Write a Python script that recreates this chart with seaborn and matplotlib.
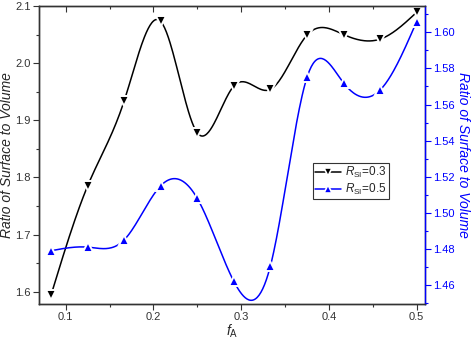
import matplotlib
matplotlib.use("Agg")
import matplotlib.pyplot as plt
import numpy as np
import seaborn as sns
from matplotlib.lines import Line2D
from matplotlib.ticker import MultipleLocator, FormatStrFormatter

sns.set_style("ticks")
plt.rcParams['font.family'] = ['Liberation Sans', 'DejaVu Sans']
plt.rcParams['mathtext.fontset'] = 'custom'
plt.rcParams['mathtext.it'] = 'Liberation Sans:italic'
plt.rcParams['mathtext.rm'] = 'Liberation Sans'

# datos
f_a = [0.0833, 0.125, 0.1667, 0.2083, 0.25, 0.2917, 0.3333, 0.375, 0.4167, 0.4583, 0.5]
rsi_03 = [1.594, 1.785, 1.934, 2.073, 1.878, 1.960, 1.954, 2.049, 2.050, 2.042, 2.089]
rsi_05 = [1.479, 1.481, 1.485, 1.515, 1.508, 1.462, 1.4705, 1.575, 1.572, 1.568, 1.606]

AZUL = '#0000ff'
GRIS = '#333333'


def spline(x, y, n=400):
    """Spline cubica natural (como la conexion 'Spline' de Origin)."""
    x = np.asarray(x, float)
    y = np.asarray(y, float)
    k = len(x)
    h = np.diff(x)
    A = np.zeros((k, k))
    b = np.zeros(k)
    A[0, 0] = A[-1, -1] = 1
    for i in range(1, k - 1):
        A[i, i - 1] = h[i - 1]
        A[i, i] = 2 * (h[i - 1] + h[i])
        A[i, i + 1] = h[i]
        b[i] = 3 * ((y[i + 1] - y[i]) / h[i] - (y[i] - y[i - 1]) / h[i - 1])
    c = np.linalg.solve(A, b)
    xs = np.linspace(x[0], x[-1], n)
    idx = np.clip(np.searchsorted(x, xs) - 1, 0, k - 2)
    dx = xs - x[idx]
    bb = (y[idx + 1] - y[idx]) / h[idx] - h[idx] * (2 * c[idx] + c[idx + 1]) / 3
    d = (c[idx + 1] - c[idx]) / (3 * h[idx])
    ys = y[idx] + bb * dx + c[idx] * dx ** 2 + d * dx ** 3
    return xs, ys


fig = plt.figure(figsize=(4.72, 3.40), dpi=100)
ax = fig.add_axes([0.0826, 0.1059, 0.8178, 0.8765])
ax2 = ax.twinx()

xs, ys = spline(f_a, rsi_03)
sns.lineplot(x=xs, y=ys, ax=ax, color='black', lw=1.1, sort=False)
ax.plot(f_a, rsi_03, ls='none', marker='v', ms=6.5, mfc='black', mec='white', mew=1.4)

xs, ys = spline(f_a, rsi_05)
sns.lineplot(x=xs, y=ys, ax=ax2, color=AZUL, lw=1.1, sort=False)
ax2.plot(f_a, rsi_05, ls='none', marker='^', ms=6.5, mfc=AZUL, mec='white', mew=1.4)

ax.set_xlim(0.0696, 0.5095)
ax.set_ylim(1.5785, 2.1)
ax2.set_ylim(1.4495, 1.6146)

ax.xaxis.set_major_locator(MultipleLocator(0.1))
ax.xaxis.set_minor_locator(MultipleLocator(0.05))
ax.yaxis.set_major_locator(MultipleLocator(0.1))
ax.yaxis.set_minor_locator(MultipleLocator(0.05))
ax2.yaxis.set_major_locator(MultipleLocator(0.02))
ax2.yaxis.set_minor_locator(MultipleLocator(0.01))
ax.xaxis.set_major_formatter(FormatStrFormatter('%.1f'))
ax.yaxis.set_major_formatter(FormatStrFormatter('%.1f'))
ax2.yaxis.set_major_formatter(FormatStrFormatter('%.2f'))

for a in (ax, ax2):
    for s in a.spines.values():
        s.set_linewidth(1.0)
        s.set_color(GRIS)
ax2.spines['right'].set_color(AZUL)

ax.tick_params(axis='both', which='major', length=4, width=0.8, labelsize=8, colors=GRIS, pad=2)
ax.tick_params(axis='both', which='minor', length=2.5, width=0.8, colors=GRIS)
ax2.tick_params(axis='y', which='major', length=4, width=0.8, labelsize=8, colors=AZUL, pad=2)
ax2.tick_params(axis='y', which='minor', length=2.5, width=0.8, colors=AZUL)

# marcas superiores hacia adentro
sec = ax.secondary_xaxis('top')
sec.xaxis.set_major_locator(MultipleLocator(0.1))
sec.xaxis.set_minor_locator(MultipleLocator(0.05))
sec.tick_params(which='major', direction='in', length=4, width=0.8, labeltop=False, colors=GRIS)
sec.tick_params(which='minor', direction='in', length=2.5, width=0.8, colors=GRIS)
sec.spines['top'].set_visible(False)

ax.set_xlabel(r'$f_{\rm A}$', fontsize=10, labelpad=0)
ax.set_ylabel('Ratio of Surface to Volume', fontsize=10, style='italic')
ax.yaxis.set_label_coords(-0.064, 0.5)
ax2.set_ylabel('Ratio of Surface to Volume', fontsize=10, style='italic', color=AZUL,
               rotation=270, labelpad=11)

handles = [
    Line2D([], [], color='black', lw=1.1, marker='v', ms=6, mfc='black', mec='white', mew=1.2),
    Line2D([], [], color=AZUL, lw=1.1, marker='^', ms=6, mfc=AZUL, mec='white', mew=1.2),
]
leg = ax.legend(handles, [r'$R_{\rm SI}$=0.3', r'$R_{\rm SI}$=0.5'], loc='upper left',
                bbox_to_anchor=(0.71, 0.473), fontsize=8.5, fancybox=False, framealpha=1,
                edgecolor=GRIS, handlelength=2.2, handletextpad=0.3,
                borderpad=0.2, labelspacing=0.1, borderaxespad=0)
leg.get_frame().set_linewidth(0.8)

fig.savefig('out.png', dpi=100)
